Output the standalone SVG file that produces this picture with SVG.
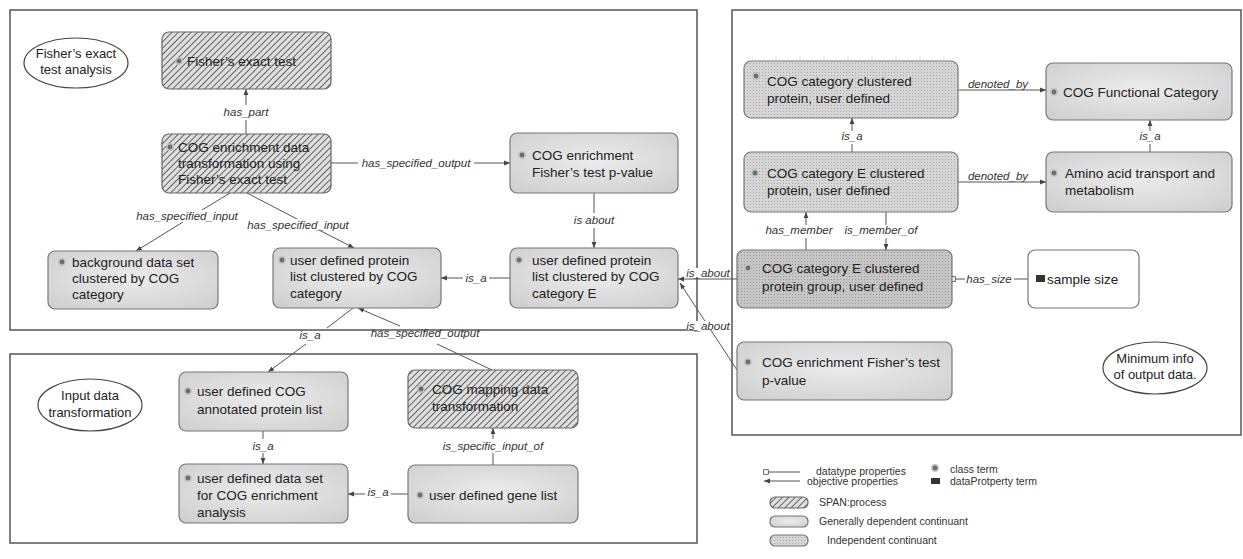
<svg xmlns="http://www.w3.org/2000/svg" width="1243" height="559" viewBox="0 0 1243 559">
<style>
.panel{fill:none;stroke:#555;stroke-width:1.5}
.gdc{fill:url(#gGrad);stroke:#777;stroke-width:1.2}
.proc{fill:url(#hatch);stroke:#666;stroke-width:1.2}
.ic{fill:url(#dots);stroke:#777;stroke-width:1.2}
.icd{fill:url(#dotsDark);stroke:#777;stroke-width:1.2}
.plain{fill:#fff;stroke:#777;stroke-width:1.2}
.t{font-family:"Liberation Sans",Arial,sans-serif;font-size:13.5px;fill:#222}
.el{fill:#fff;stroke:#444;stroke-width:1.2}
.et{font-family:"Liberation Sans",Arial,sans-serif;font-size:13px;fill:#222;text-anchor:middle}
.bul{fill:#6e6e6e;stroke:#c4c4c4;stroke-width:1.5}
.c{fill:none;stroke:#555;stroke-width:1}
.a{marker-end:url(#arr)}
.lbl{font-family:"Liberation Sans",Arial,sans-serif;font-style:italic;font-size:11.5px;fill:#333;text-anchor:middle}
.lg{font-family:"Liberation Sans",Arial,sans-serif;font-size:10.5px;fill:#333}
</style>
<defs>
<radialGradient id="gGrad" cx="50%" cy="45%" r="70%">
<stop offset="0" stop-color="#ececec"/>
<stop offset="1" stop-color="#cfcfcf"/>
</radialGradient>
<pattern id="hatch" width="4.5" height="4.5" patternUnits="userSpaceOnUse" patternTransform="rotate(45)">
<rect width="4.5" height="4.5" fill="#dedede"/>
<line x1="0" y1="0" x2="0" y2="4.5" stroke="#5a5a5a" stroke-width="1.8"/>
</pattern>
<pattern id="dots" width="3" height="3" patternUnits="userSpaceOnUse">
<rect width="3" height="3" fill="#d6d6d6"/>
<rect x="0" y="0" width="1" height="1" fill="#a8a8a8"/>
</pattern>
<pattern id="dotsDark" width="3" height="3" patternUnits="userSpaceOnUse">
<rect width="3" height="3" fill="#c6c6c6"/>
<rect x="0" y="0" width="1" height="1" fill="#989898"/>
</pattern>
<marker id="arr" viewBox="0 0 10 10" refX="10" refY="5" markerWidth="6" markerHeight="6" markerUnits="userSpaceOnUse" orient="auto">
<path d="M0,1 L10,5 L0,9 z" fill="#444"/>
</marker>
<marker id="sq" viewBox="0 0 10 10" refX="5" refY="5" markerWidth="6" markerHeight="6" markerUnits="userSpaceOnUse" orient="auto">
<rect x="1" y="1" width="8" height="8" fill="#fff" stroke="#555" stroke-width="1.5"/>
</marker>
</defs>
<rect width="1243" height="559" fill="#fff"/>

<g id="panels">
<rect class="panel" x="10" y="10" width="687" height="320"/>
<rect class="panel" x="10" y="354" width="687" height="189"/>
<rect class="panel" x="732" y="10" width="509" height="425"/>
</g>

<g id="connectors">
<path class="c a" d="M246,134 L246,120 M246,105 L246,89"/>
<text class="lbl" x="246" y="116">has_part</text>
<path class="c a" d="M331,163 L358,163 M474,163 L510,163"/>
<text class="lbl" x="416" y="167">has_specified_output</text>
<path class="c a" d="M230,193 L202,210 M183,222 L136,251"/>
<text class="lbl" x="187" y="220">has_specified_input</text>
<path class="c a" d="M247,193 L297,219 M319,230 L354,248"/>
<text class="lbl" x="298" y="229">has_specified_input</text>
<path class="c a" d="M594,193 L594,213 M594,228 L594,248"/>
<text class="lbl" x="594" y="224">is about</text>
<path class="c a" d="M510,278 L489,278 M463,278 L441,278"/>
<text class="lbl" x="476" y="282">is_a</text>
<line class="c a" x1="737" y1="279" x2="678" y2="279"/>
<rect x="686" y="268" width="44" height="9" fill="#fff"/>
<text class="lbl" x="708" y="277">is_about</text>
<line class="c a" x1="737" y1="370" x2="680" y2="283"/>
<rect x="686" y="321" width="44" height="9" fill="#fff"/>
<text class="lbl" x="708" y="330">is_about</text>
<path class="c a" d="M492,370 L437,344 M400,326 L358,308"/>
<text class="lbl" x="425" y="337">has_specified_output</text>
<path class="c a" d="M353,308 L327,328 M306,344 L268,372"/>
<text class="lbl" x="310" y="339">is_a</text>
<path class="c a" d="M263,431 L263,439 M263,453 L263,464"/>
<text class="lbl" x="263" y="450">is_a</text>
<path class="c a" d="M408,494 L391,494 M365,494 L348,494"/>
<text class="lbl" x="378" y="496">is_a</text>
<path class="c a" d="M493,465 L493,453 M493,439 L493,428"/>
<text class="lbl" x="493" y="450">is_specific_input_of</text>
<line class="c a" x1="958" y1="90" x2="1046" y2="90"/>
<rect x="970" y="79" width="56" height="9" fill="#fff"/>
<text class="lbl" x="998" y="88">denoted_by</text>
<path class="c a" d="M1150,152 L1150,144 M1150,131 L1150,120"/>
<text class="lbl" x="1150" y="140">is_a</text>
<line class="c a" x1="958" y1="182" x2="1046" y2="182"/>
<rect x="970" y="171" width="56" height="9" fill="#fff"/>
<text class="lbl" x="998" y="180">denoted_by</text>
<path class="c a" d="M852,152 L852,144 M852,131 L852,118"/>
<text class="lbl" x="852" y="140">is_a</text>
<path class="c a" d="M806,250 L806,238 M806,225 L806,212"/>
<text class="lbl" x="799" y="234">has_member</text>
<path class="c a" d="M886,212 L886,225 M886,238 L886,250"/>
<text class="lbl" x="881" y="234">is_member_of</text>
<path class="c" d="M1028,279 L1014,279 M965,279 L953,279" marker-end="url(#sq)"/>
<text class="lbl" x="989" y="283">has_size</text>
</g>

<g id="n1"><rect class="proc" x="162" y="32" width="169" height="57" rx="7"/><circle class="bul" cx="179" cy="61" r="3.2"/><text class="t" x="187" y="66">Fisher’s exact test</text></g>
<g id="n2"><rect class="proc" x="162" y="134" width="169" height="59" rx="7"/><circle class="bul" cx="170" cy="147" r="3.2"/><text class="t" x="178"><tspan x="178" y="152">COG enrichment data</tspan><tspan x="178" y="168">transformation using</tspan><tspan x="178" y="184">Fisher’s exact test</tspan></text></g>
<g id="n3"><rect class="gdc" x="510" y="133" width="168" height="60" rx="7"/><circle class="bul" cx="522" cy="155" r="3.2"/><text class="t"><tspan x="532" y="160">COG enrichment</tspan><tspan x="532" y="177">Fisher’s test p-value</tspan></text></g>
<g id="n4"><rect class="gdc" x="48" y="251" width="170" height="58" rx="7"/><circle class="bul" cx="62" cy="262" r="3.2"/><text class="t"><tspan x="72" y="267">background data set</tspan><tspan x="72" y="283">clustered by COG</tspan><tspan x="72" y="299">category</tspan></text></g>
<g id="n5"><rect class="gdc" x="273" y="248" width="168" height="60" rx="7"/><circle class="bul" cx="282" cy="260" r="3.2"/><text class="t"><tspan x="290" y="265">user defined protein</tspan><tspan x="290" y="281">list clustered by COG</tspan><tspan x="290" y="298">category</tspan></text></g>
<g id="n6"><rect class="gdc" x="510" y="248" width="168" height="60" rx="7"/><circle class="bul" cx="519" cy="260" r="3.2"/><text class="t"><tspan x="532" y="265">user defined protein</tspan><tspan x="532" y="281">list clustered by COG</tspan><tspan x="532" y="298">category E</tspan></text></g>
<g id="n7"><rect class="gdc" x="179" y="372" width="169" height="59" rx="7"/><circle class="bul" cx="188" cy="391" r="3.2"/><text class="t"><tspan x="197" y="396">user defined COG</tspan><tspan x="197" y="414">annotated protein list</tspan></text></g>
<g id="n8"><rect class="gdc" x="179" y="464" width="169" height="59" rx="7"/><circle class="bul" cx="188" cy="478" r="3.2"/><text class="t"><tspan x="197" y="483">user defined data set</tspan><tspan x="197" y="500">for COG enrichment</tspan><tspan x="197" y="517">analysis</tspan></text></g>
<g id="n9"><rect class="proc" x="408" y="370" width="170" height="58" rx="7"/><circle class="bul" cx="421" cy="389" r="3.2"/><text class="t"><tspan x="432" y="394">COG mapping data</tspan><tspan x="432" y="411">transformation</tspan></text></g>
<g id="n10"><rect class="gdc" x="408" y="465" width="170" height="58" rx="7"/><circle class="bul" cx="420" cy="495" r="3.2"/><text class="t" x="429" y="500">user defined gene list</text></g>

<g id="n11"><rect class="ic" x="744" y="61" width="214" height="57" rx="7"/><circle class="bul" cx="756" cy="76" r="3.2"/><text class="t"><tspan x="767" y="86">COG category clustered</tspan><tspan x="767" y="103">protein, user defined</tspan></text></g>
<g id="n12"><rect class="gdc" x="1046" y="63" width="186" height="57" rx="7"/><circle class="bul" cx="1054" cy="92" r="3.2"/><text class="t" x="1063" y="97">COG Functional Category</text></g>
<g id="n13"><rect class="ic" x="744" y="152" width="214" height="60" rx="7"/><circle class="bul" cx="755" cy="173" r="3.2"/><text class="t"><tspan x="767" y="178">COG category E clustered</tspan><tspan x="767" y="195">protein, user defined</tspan></text></g>
<g id="n14"><rect class="gdc" x="1046" y="152" width="186" height="60" rx="7"/><circle class="bul" cx="1054" cy="173" r="3.2"/><text class="t"><tspan x="1065" y="178">Amino acid transport and</tspan><tspan x="1065" y="195">metabolism</tspan></text></g>
<g id="n15"><rect class="icd" x="737" y="250" width="215" height="58" rx="7"/><circle class="bul" cx="748" cy="268" r="3.2"/><text class="t"><tspan x="762" y="273">COG category E clustered</tspan><tspan x="762" y="291">protein group, user defined</tspan></text></g>
<g id="n16"><rect class="plain" x="1028" y="250" width="111" height="58" rx="7"/><rect x="1036" y="275" width="9" height="7" fill="#333"/><text class="t" x="1047" y="284">sample size</text></g>
<g id="n17"><rect class="gdc" x="737" y="342" width="215" height="58" rx="7"/><circle class="bul" cx="748" cy="362" r="3.2"/><text class="t"><tspan x="762" y="367">COG enrichment Fisher’s test</tspan><tspan x="762" y="385">p-value</tspan></text></g>

<g id="e1"><ellipse class="el" cx="76" cy="63" rx="52" ry="25"/><text class="et"><tspan x="76" y="58">Fisher’s exact</tspan><tspan x="76" y="74">test analysis</tspan></text></g>
<g id="e2"><ellipse class="el" cx="90" cy="405" rx="52" ry="26"/><text class="et"><tspan x="90" y="400">Input data</tspan><tspan x="90" y="417">transformation</tspan></text></g>
<g id="e3"><ellipse class="el" cx="1155" cy="368" rx="52" ry="26"/><text class="et"><tspan x="1155" y="363">Minimum info</tspan><tspan x="1155" y="379">of output data.</tspan></text></g>

<g id="legend">
<line class="c" x1="800" y1="472" x2="766" y2="472" marker-end="url(#sq)"/>
<text class="lg" x="816" y="475">datatype properties</text>
<line class="c a" x1="800" y1="481" x2="764" y2="481"/>
<text class="lg" x="807" y="485">objective properties</text>
<circle class="bul" cx="935" cy="468" r="3.2"/>
<text class="lg" x="950" y="473">class term</text>
<rect x="931" y="478" width="9" height="6" fill="#333"/>
<text class="lg" x="950" y="485">dataProtperty term</text>
<rect class="proc" x="770" y="497" width="38" height="11" rx="5"/>
<text class="lg" x="819" y="506">SPAN:process</text>
<rect class="gdc" x="770" y="516" width="38" height="11" rx="5"/>
<text class="lg" x="819" y="525">Generally dependent continuant</text>
<rect class="ic" x="770" y="535" width="38" height="11" rx="5"/>
<text class="lg" x="827" y="544">Independent continuant</text>
</g>
</svg>
